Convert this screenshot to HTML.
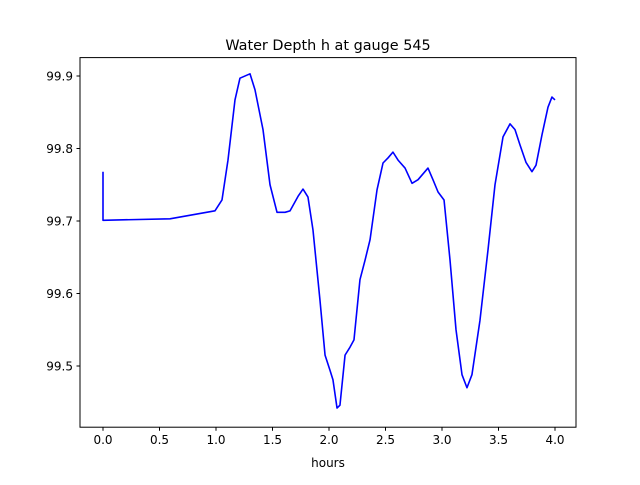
<!DOCTYPE html>
<html><head><meta charset="utf-8"><style>
body{margin:0;background:#fff}
svg text{font-family:"DejaVu Sans","Liberation Sans",sans-serif}
</style></head><body>
<svg id="chart" width="640" height="480" xmlns="http://www.w3.org/2000/svg">
<rect width="640" height="480" fill="#fff"/>
<text x="328" y="50" font-size="14.4" text-anchor="middle">Water Depth h at gauge 545</text>
<g id="axes"></g>
<text x="328" y="467" font-size="12" text-anchor="middle">hours</text>
</svg>
<script>
const hours=[0,0,0.593,0.991,1.053,1.106,1.168,1.212,1.301,1.345,1.416,1.478,1.540,1.611,1.655,1.726,1.77,1.814,1.858,1.920,1.965,2.009,2.035,2.071,2.097,2.142,2.186,2.221,2.274,2.319,2.363,2.425,2.478,2.522,2.566,2.611,2.673,2.735,2.788,2.876,2.920,2.965,3.018,3.071,3.124,3.177,3.221,3.265,3.336,3.407,3.469,3.540,3.602,3.646,3.690,3.743,3.796,3.832,3.885,3.938,3.973,4.0];
const depth=[99.768,99.701,99.703,99.714,99.729,99.784,99.867,99.897,99.903,99.881,99.826,99.750,99.712,99.712,99.714,99.734,99.744,99.733,99.688,99.591,99.515,99.494,99.481,99.442,99.446,99.515,99.526,99.536,99.619,99.646,99.674,99.743,99.780,99.787,99.795,99.784,99.773,99.752,99.757,99.773,99.757,99.740,99.729,99.646,99.550,99.488,99.470,99.488,99.563,99.660,99.750,99.816,99.834,99.826,99.805,99.781,99.768,99.777,99.819,99.857,99.871,99.867];
const xTicks=[0,0.5,1,1.5,2,2.5,3,3.5,4];
const xLabels=["0.0","0.5","1.0","1.5","2.0","2.5","3.0","3.5","4.0"];
const yTicks=[99.5,99.6,99.7,99.8,99.9];
const yLabels=["99.5","99.6","99.7","99.8","99.9"];
const L=80,R=576,T=57.6,B=427.2;
const X=v=>103+v*113;
const Y=v=>76+(99.9-v)*725;
const NS="http://www.w3.org/2000/svg";
const g=document.getElementById('axes');
function mk(t,a){const e=document.createElementNS(NS,t);for(const k in a)e.setAttribute(k,a[k]);g.appendChild(e);return e;}
const line=mk('polyline',{points:hours.map((h,i)=>X(h)+','+Y(depth[i])).join(' '),fill:'none',stroke:'#0000ff','stroke-width':1.6,'stroke-linejoin':'round'});


const fr=mk('rect',{x:L,y:T,width:R-L,height:B-T,fill:'none',stroke:'#000','stroke-width':1});


xTicks.forEach((v,i)=>{
 const tk=mk('line',{x1:X(v),x2:X(v),y1:B,y2:B+3.5,stroke:'#000'});
 
 
 const t=mk('text',{x:X(v),y:B+17,'font-size':12,'text-anchor':'middle'});t.textContent=xLabels[i];
 
 
});
yTicks.forEach((v,i)=>{
 const tk=mk('line',{x1:L-3.5,x2:L,y1:Y(v),y2:Y(v),stroke:'#000'});
 
 
 const t=mk('text',{x:L-7,y:Y(v)+4.5,'font-size':12,'text-anchor':'end'});t.textContent=yLabels[i];
 
 
});
</script>
</body></html>
